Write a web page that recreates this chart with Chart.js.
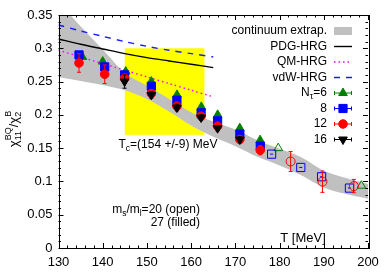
<!DOCTYPE html>
<html><head><meta charset="utf-8">
<script src="https://cdn.jsdelivr.net/npm/chart.js@4.4.0/dist/chart.umd.min.js"></script>
<style>html,body{margin:0;padding:0;background:#fff;}#wrap{width:392px;height:275px;}</style>
</head><body><div id="wrap"><canvas id="c" width="392" height="275"></canvas></div>
<script>
const FONT = '"Liberation Sans", Arial, Helvetica, sans-serif';

// axes
const xTicks = [130,140,150,160,170,180,190,200];
const yTicks = [0,0.05,0.1,0.15,0.2,0.25,0.3,0.35];
const yTickLabels = ['0','0.05','0.1','0.15','0.2','0.25','0.3','0.35'];

// continuum extrapolation band
const bandT  = [130,135,140,145,150,155,160,165,170,175,180,185,190,195,200];
const bandHi = [0.370,0.333,0.298,0.263,0.244,0.224,0.204,0.190,0.178,0.162,0.149,0.136,0.116,0.105,0.096];
const bandLo = [0.257,0.251,0.245,0.237,0.224,0.205,0.184,0.167,0.153,0.137,0.124,0.109,0.091,0.081,0.074];

// HRG curves
const hrgT   = [130,135,140,145,150,155,160,165];
const pdgHRG = [0.314,0.306,0.299,0.292,0.286,0.281,0.276,0.271];
const qmHRG  = [0.297,0.287,0.277,0.267,0.257,0.247,0.237,0.227];
const vdwHRG = [0.335,0.326,0.318,0.310,0.303,0.297,0.292,0.287];

// Tc box
const Tc = 154, TcErr = 9;
const tcBoxY = [0.17, 0.30];

// lattice data, ms/ml=27 (filled)
const nt6T  = [135.4,140.0,145.2,151.0,156.8,162.3,166.0,171.0,175.6];
const nt6   = [0.287,0.280,0.265,0.250,0.230,0.212,0.200,0.180,0.162];
const nt8T  = [134.64,140.45,144.95,151.00,156.78,162.25,165.98,171.02,175.64];
const nt8   = [0.290,0.272,0.260,0.243,0.222,0.203,0.191,0.171,0.153];
const nt12T = [134.64,140.45,144.95,151.00,156.78,162.25,165.98,171.02,175.64];
const nt12  = [0.278,0.261,0.255,0.232,0.213,0.198,0.183,0.163,0.147];
const nt12E = [0.014,0.014,0.006,0.004,0.004,0.004,0.005,0.004,0.007];
const nt16T = [144.95,151.00,156.78,162.25,165.98,171.02];
const nt16  = [0.250,0.230,0.211,0.196,0.180,0.163];
const nt16E = [0.010,0.005,0.005,0.004,0.004,0.004];

// ms/ml=20 (open)
const nt6oT  = [179.7,198.5];
const nt6o   = [0.150,0.0936];
const nt8oT  = [178.2,184.8,189.5,195.8];
const nt8o   = [0.141,0.121,0.107,0.090];
const nt12oT = [182.5,189.7,196.8];
const nt12o  = [0.130,0.0996,0.093];
const nt12oE = [0.015,0.016,0.010];

const GREEN = '#008000', BLUE = '#0000ff', RED = '#ff0000', GRAY = '#c0c0c0';

const pts = (xs, ys) => xs.map((x, i) => ({x: x, y: ys[i]}));

function marker(label, xs, ys, style, color, radius, opts) {
  return Object.assign({
    label: label, data: pts(xs, ys), showLine: false,
    pointStyle: style, pointRadius: radius, pointHoverRadius: radius,
    backgroundColor: color, borderColor: color, pointBorderWidth: 1
  }, opts || {});
}

const datasets = [
  {label:'bandLo', data: pts(bandT, bandLo), showLine:true, pointRadius:0, borderWidth:0, borderColor:'rgba(0,0,0,0)', fill:false, order:20, tension:0.3},
  {label:'bandHi', data: pts(bandT, bandHi), showLine:true, pointRadius:0, borderWidth:0, borderColor:'rgba(0,0,0,0)', backgroundColor:GRAY, fill:'-1', order:19, tension:0.3},
  {label:'PDG-HRG', data: pts(hrgT, pdgHRG), showLine:true, pointRadius:0, borderWidth:1.4, borderColor:'#000', fill:false, order:10, tension:0.3},
  {label:'QM-HRG', data: pts(hrgT, qmHRG), showLine:true, pointRadius:0, borderWidth:1.4, borderColor:'#ff00ff', borderDash:[1.5,3], fill:false, order:10, tension:0.3},
  {label:'vdW-HRG', data: pts(hrgT, vdwHRG), showLine:true, pointRadius:0, borderWidth:1.4, borderColor:'#1a1aff', borderDash:[6,6], fill:false, order:10, tension:0.3},
  marker('Nt6', nt6T, nt6, 'triangle', GREEN, 5, {order:5}),
  marker('Nt8', nt8T, nt8, 'rect', BLUE, 5.8, {order:4}),
  marker('Nt12', nt12T, nt12, 'circle', RED, 4.3, {order:3, errors: nt12E, errColor: RED}),
  marker('Nt16', nt16T, nt16, 'triangle', '#000', 5, {order:2, rotation:180, errors: nt16E, errColor:'#000'}),
  marker('Nt6o', nt6oT, nt6o, 'triangle', GREEN, 5, {order:5, backgroundColor:'rgba(0,0,0,0)'}),
  marker('Nt8o', nt8oT, nt8o, 'rect', BLUE, 5.8, {order:4, backgroundColor:'rgba(0,0,0,0)', innerDash:true}),
  marker('Nt12o', nt12oT, nt12o, 'circle', RED, 4.5, {order:3, backgroundColor:'rgba(0,0,0,0)', errors: nt12oE, errColor: RED})
];

const decorPlugin = {
  id: 'decor',
  beforeDatasetsDraw(chart) {
    const {ctx, scales:{x, y}} = chart;
    ctx.save();
    ctx.fillStyle = '#ffff00';
    const x0 = x.getPixelForValue(Tc - TcErr), x1 = x.getPixelForValue(Tc + TcErr);
    const y0 = y.getPixelForValue(tcBoxY[1]), y1 = y.getPixelForValue(tcBoxY[0]);
    ctx.fillRect(x0, y0, x1 - x0, y1 - y0);
    ctx.restore();
  },
  beforeDatasetDraw(chart, args) {
    const ds = chart.data.datasets[args.index];
    if (!ds.errors) return;
    const {ctx, scales:{x, y}} = chart;
    ctx.save();
    ctx.strokeStyle = ds.errColor; ctx.lineWidth = 1;
    ds.data.forEach((p, i) => {
      const px = x.getPixelForValue(p.x);
      const ya = y.getPixelForValue(p.y + ds.errors[i]);
      const yb = y.getPixelForValue(p.y - ds.errors[i]);
      ctx.beginPath();
      ctx.moveTo(px, ya); ctx.lineTo(px, yb);
      ctx.moveTo(px - 2, ya); ctx.lineTo(px + 2, ya);
      ctx.moveTo(px - 2, yb); ctx.lineTo(px + 2, yb);
      ctx.stroke();
    });
    ctx.restore();
  },
  afterDatasetDraw(chart, args) {
    const ds = chart.data.datasets[args.index];
    if (!ds.innerDash) return;
    const {ctx, scales:{x, y}} = chart;
    ctx.save();
    ctx.strokeStyle = ds.borderColor; ctx.lineWidth = 1;
    ds.data.forEach(p => {
      const px = x.getPixelForValue(p.x), py = y.getPixelForValue(p.y);
      ctx.beginPath(); ctx.moveTo(px - 1.5, py); ctx.lineTo(px + 1.5, py); ctx.stroke();
    });
    ctx.restore();
  },
  afterDraw(chart) {
    const {ctx, chartArea: a, scales:{x, y}} = chart;
    ctx.save();
    // frame
    ctx.strokeStyle = '#000'; ctx.lineWidth = 1;
    ctx.strokeRect(Math.round(a.left) + 0.5, Math.round(a.top) + 0.5, Math.round(a.right - a.left), Math.round(a.bottom - a.top));
    // ticks
    ctx.beginPath();
    for (let v = 130; v <= 200; v += 2) {
      const px = Math.round(x.getPixelForValue(v)) + 0.5;
      const len = (v % 10 === 0) ? 5 : 2.5;
      ctx.moveTo(px, a.bottom); ctx.lineTo(px, a.bottom - len);
      ctx.moveTo(px, a.top); ctx.lineTo(px, a.top + len);
    }
    for (let k = 0; k <= 35; k++) {
      const py = Math.round(y.getPixelForValue(k / 100)) + 0.5;
      const len = (k % 5 === 0) ? 5 : 2.5;
      ctx.moveTo(a.left, py); ctx.lineTo(a.left + len, py);
      ctx.moveTo(a.right, py); ctx.lineTo(a.right - len, py);
    }
    ctx.stroke();

    ctx.fillStyle = '#000';
    ctx.textBaseline = 'middle';
    const F = s => s + 'px ' + FONT;

    // y-axis title (rotated)
    ctx.save();
    ctx.translate(18, 129);
    ctx.rotate(-Math.PI / 2);
    ctx.textAlign = 'left';
    ctx.textBaseline = 'alphabetic';
    const partsW = (t, s) => { ctx.font = F(s); return ctx.measureText(t).width; };
    const wChi = partsW('\u03c7', 13), w11 = partsW('11', 9), wBQ = partsW('BQ', 9), wSl = partsW('/', 13), w2 = partsW('2', 9), wB = partsW('B', 9);
    const total = wChi + Math.max(w11, wBQ) + wSl + wChi + Math.max(w2, wB);
    let cx = -total / 2;
    ctx.font = F(13); ctx.fillText('\u03c7', cx, 0); cx += wChi;
    ctx.font = F(9); ctx.fillText('11', cx, 3); ctx.fillText('BQ', cx, -7); cx += Math.max(w11, wBQ);
    ctx.font = F(13); ctx.fillText('/', cx, 0); cx += wSl;
    ctx.fillText('\u03c7', cx, 0); cx += wChi;
    ctx.font = F(9); ctx.fillText('2', cx, 3); ctx.fillText('B', cx, -7);
    ctx.restore();

    // x-axis title
    ctx.font = F(13); ctx.textAlign = 'center';
    ctx.fillText('T [MeV]', 303, 238);

    // Tc text
    ctx.textAlign = 'left';
    {
      const s1 = 'T', s2 = 'c', s3 = '=(154 +/-9) MeV';
      ctx.font = F(12); const a1 = ctx.measureText(s1).width, a3 = ctx.measureText(s3).width;
      ctx.font = F(8.5); const a2 = ctx.measureText(s2).width;
      let sx = 168 - (a1 + a2 + a3) / 2;
      ctx.font = F(12); ctx.fillText(s1, sx, 145); sx += a1;
      ctx.font = F(8.5); ctx.fillText(s2, sx, 149); sx += a2;
      ctx.font = F(12); ctx.fillText(s3, sx, 145);
    }
    // ms/ml text (right aligned)
    {
      const parts = [['m',12,0],['s',8.5,4],['/m',12,0],['l',8.5,4],['=20 (open)',12,0]];
      let w = 0; parts.forEach(p => { ctx.font = F(p[1]); p.push(ctx.measureText(p[0]).width); w += p[3]; });
      let sx = 200 - w;
      parts.forEach(p => { ctx.font = F(p[1]); ctx.fillText(p[0], sx, 210 + p[2]); sx += p[3]; });
      ctx.font = F(12); ctx.textAlign = 'right';
      ctx.fillText('27 (filled)', 200, 223);
    }

    // legend
    const tx = 327, s0 = 334, s1 = 352, sc = 343;
    const rows = [31, 46.5, 62, 77.5, 93, 108.5, 124, 139.5];
    ctx.font = F(12); ctx.textAlign = 'right';
    const simple = ['continuum extrap.', 'PDG-HRG', 'QM-HRG', 'vdW-HRG'];
    simple.forEach((t, i) => ctx.fillText(t, tx, rows[i]));
    ['8', '12', '16'].forEach((t, i) => ctx.fillText(t, tx, rows[5 + i]));
    {
      ctx.font = F(12); const wEq = ctx.measureText('=6').width;
      ctx.fillText('=6', tx, rows[4]);
      ctx.font = F(9); const wTau = ctx.measureText('\u03c4').width;
      ctx.fillText('\u03c4', tx - wEq, rows[4] + 4);
      ctx.font = F(12); ctx.fillText('N', tx - wEq - wTau, rows[4]);
    }
    // samples
    ctx.fillStyle = GRAY; ctx.fillRect(s0, rows[0] - 4, s1 - s0, 8);
    const line = (r, color, dash) => {
      ctx.save(); ctx.strokeStyle = color; ctx.lineWidth = 1.4; ctx.setLineDash(dash);
      ctx.beginPath(); ctx.moveTo(s0, r); ctx.lineTo(s1, r); ctx.stroke(); ctx.restore();
    };
    line(rows[1], '#000', []);
    line(rows[2], '#ff00ff', [1.5, 3]);
    line(rows[3], '#1a1aff', [6, 6]);
    const mk = [[GREEN, 'triangle', 5, 0], [BLUE, 'rect', 5.8, 0], [RED, 'circle', 4.3, 0], ['#000', 'triangle', 5, 180]];
    mk.forEach((m, i) => {
      const r = rows[4 + i];
      ctx.save(); ctx.strokeStyle = m[0]; ctx.lineWidth = 1;
      ctx.beginPath(); ctx.moveTo(s0, r); ctx.lineTo(s1, r);
      ctx.moveTo(s0 + 0.5, r - 2); ctx.lineTo(s0 + 0.5, r + 2);
      ctx.moveTo(s1 - 0.5, r - 2); ctx.lineTo(s1 - 0.5, r + 2);
      ctx.stroke();
      ctx.fillStyle = m[0];
      Chart.helpers.drawPoint(ctx, {pointStyle: m[1], radius: m[2], rotation: m[3], borderWidth: 1}, sc, r);
      ctx.restore();
    });
    ctx.restore();
  }
};

new Chart(document.getElementById('c'), {
  type: 'scatter',
  data: { datasets: datasets },
  options: {
    responsive: false, animation: false, devicePixelRatio: 1,
    layout: { padding: { top: 15, right: 24, left: 0, bottom: 0 } },
    plugins: { legend: { display: false }, tooltip: { enabled: false } },
    scales: {
      x: {
        type: 'linear', min: 130, max: 200,
        grid: { display: false, drawTicks: false }, border: { display: false },
        afterBuildTicks: s => { s.ticks = xTicks.map(v => ({value: v})); },
        afterFit: s => { s.height = 27; },
        ticks: { padding: 7, color: '#000', font: { family: FONT, size: 13 }, maxRotation: 0, autoSkip: false }
      },
      y: {
        type: 'linear', min: 0, max: 0.35,
        grid: { display: false, drawTicks: false }, border: { display: false },
        afterBuildTicks: s => { s.ticks = yTicks.map(v => ({value: v})); },
        afterFit: s => { s.width = 58.5; },
        ticks: { padding: 6, color: '#000', font: { family: FONT, size: 13 }, autoSkip: false,
                 callback: (v) => { const i = yTicks.findIndex(t => Math.abs(t - v) < 1e-9); return i >= 0 ? yTickLabels[i] : ''; } }
      }
    }
  },
  plugins: [decorPlugin]
});
</script>
</body></html>
